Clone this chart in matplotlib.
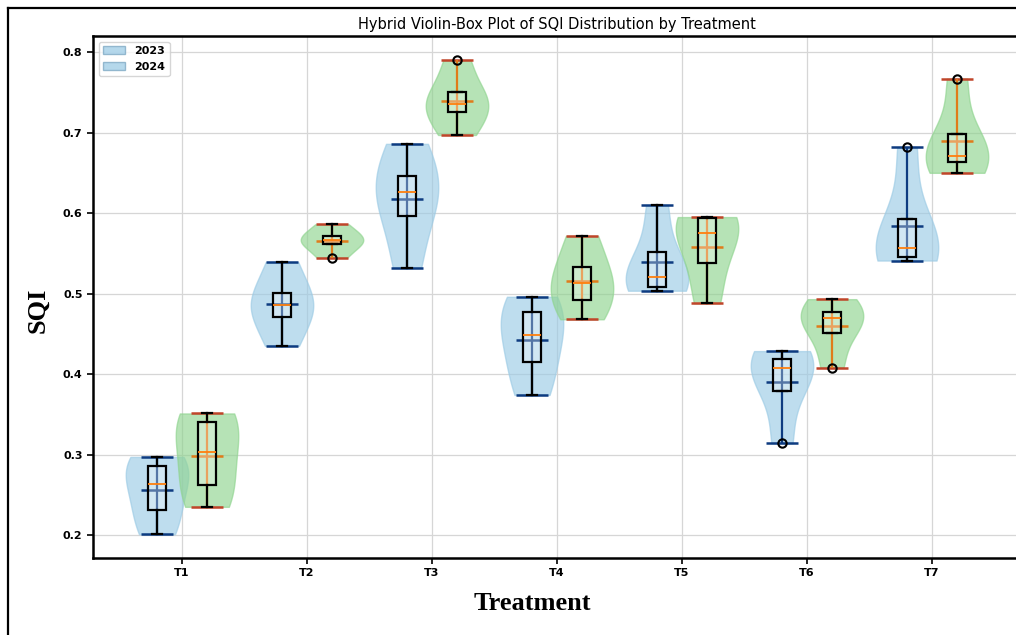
import matplotlib
matplotlib.use("Agg")
import matplotlib.pyplot as plt
from matplotlib.patches import Patch
from matplotlib.lines import Line2D
import numpy as np

# ---------------- data (n = 5 replicates per treatment / year) ----------------
treatments = ["T1", "T2", "T3", "T4", "T5", "T6", "T7"]
years = ["2023", "2024"]

sqi_2023 = [
    [0.201, 0.231, 0.263, 0.286, 0.297],
    [0.435, 0.471, 0.486, 0.501, 0.539],
    [0.532, 0.596, 0.626, 0.646, 0.686],
    [0.374, 0.4145, 0.449, 0.477, 0.496],
    [0.5035, 0.508, 0.5205, 0.551, 0.610],
    [0.314, 0.379, 0.408, 0.4185, 0.4285],
    [0.541, 0.546, 0.556, 0.593, 0.682],
]
sqi_2024 = [
    [0.235, 0.262, 0.303, 0.340, 0.351],
    [0.5445, 0.561, 0.566, 0.5715, 0.586],
    [0.697, 0.726, 0.735, 0.750, 0.790],
    [0.468, 0.492, 0.5125, 0.533, 0.5715],
    [0.488, 0.5375, 0.575, 0.594, 0.595],
    [0.408, 0.451, 0.469, 0.477, 0.493],
    [0.650, 0.664, 0.671, 0.698, 0.767],
]
yticks = [0.2, 0.3, 0.4, 0.5, 0.6, 0.7, 0.8]

# ---------------- figure ----------------
W, H = 1016, 635
fig = plt.figure(figsize=(W / 100, H / 100), dpi=100)
fig.patch.set_facecolor("white")
ax = fig.add_axes([93 / W, 1 - 558 / H, 928 / W, 522 / H])

base = np.arange(1, len(treatments) + 1)
blue_face = "#9ccbe5"
green_face = "#8fd48f"


def draw(data, pos, face, line_main, line_ext):
    vp = ax.violinplot(data, positions=pos, widths=0.5, showmeans=True,
                       showextrema=True, showmedians=False)
    for b in vp["bodies"]:
        b.set_facecolor(face)
        b.set_edgecolor(face)
        b.set_alpha(0.65)
        b.set_zorder(1)
    vp["cbars"].set_color(line_main)
    vp["cbars"].set_linewidth(1.6)
    vp["cmeans"].set_color(line_main)
    vp["cmeans"].set_linewidth(1.8)
    for k in ("cmins", "cmaxes"):
        vp[k].set_color(line_ext)
        vp[k].set_linewidth(1.8)
    for k in ("cbars", "cmeans", "cmins", "cmaxes"):
        vp[k].set_zorder(2)
    ax.boxplot(
        data, positions=pos, widths=0.15, patch_artist=True, manage_ticks=False,
        boxprops=dict(facecolor=(1, 1, 1, 0.3), edgecolor="black", linewidth=1.6),
        whiskerprops=dict(color="black", linewidth=1.6),
        capprops=dict(color="black", linewidth=1.6),
        medianprops=dict(color="#ff7f0e", linewidth=1.3),
        flierprops=dict(marker="o", markerfacecolor="none", markeredgecolor="black",
                        markersize=6, markeredgewidth=1.5),
        zorder=3,
    )


draw(sqi_2023, base - 0.2, blue_face, "#0d3b80", "#0d3b80")
draw(sqi_2024, base + 0.2, green_face, "#e07b1a", "#c0452a")

ax.set_xlim(0.288, 7.712)
ax.set_ylim(0.1714, 0.82)
ax.set_xticks(base)
ax.set_xticklabels(treatments, fontsize=8, fontweight="bold")
ax.set_yticks(yticks)
ax.set_yticklabels([f"{v:.1f}" for v in yticks], fontsize=8, fontweight="bold")
ax.tick_params(direction="out", length=4, width=1.2, color="black")
ax.grid(True, color="#d6d6d6", linewidth=0.9)
ax.set_axisbelow(True)
for s in ax.spines.values():
    s.set_linewidth(1.8)
    s.set_color("black")

leg_handles = [Patch(facecolor=blue_face, alpha=0.75, edgecolor="#7aa6c2"),
               Patch(facecolor=blue_face, alpha=0.75, edgecolor="#7aa6c2")]
ax.legend(leg_handles, years, loc="upper left", prop=dict(size=8, weight="bold"),
          frameon=True, edgecolor="#cccccc", fancybox=True, borderaxespad=0.5)

# titles / labels
fig.text(557 / W, 1 - 24 / H, "Hybrid Violin-Box Plot of SQI Distribution by Treatment",
         ha="center", va="center", fontsize=10.5)
fig.text(532 / W, 1 - 603 / H, "Treatment", ha="center", va="center",
         fontsize=19, fontweight="bold", family="Liberation Serif")
fig.text(38 / W, 1 - 310 / H, "SQI", ha="center", va="center", rotation=90,
         fontsize=19, fontweight="bold", family="Liberation Serif")

# outer frame (top and left edges visible in the crop)
fig.add_artist(Line2D([8 / W, 1.0], [1 - 8 / H, 1 - 8 / H], color="black",
                      linewidth=1.6, transform=fig.transFigure))
fig.add_artist(Line2D([8 / W, 8 / W], [0.0, 1 - 8 / H], color="black",
                      linewidth=1.6, transform=fig.transFigure))

fig.savefig("out.png", dpi=100, facecolor="white")
